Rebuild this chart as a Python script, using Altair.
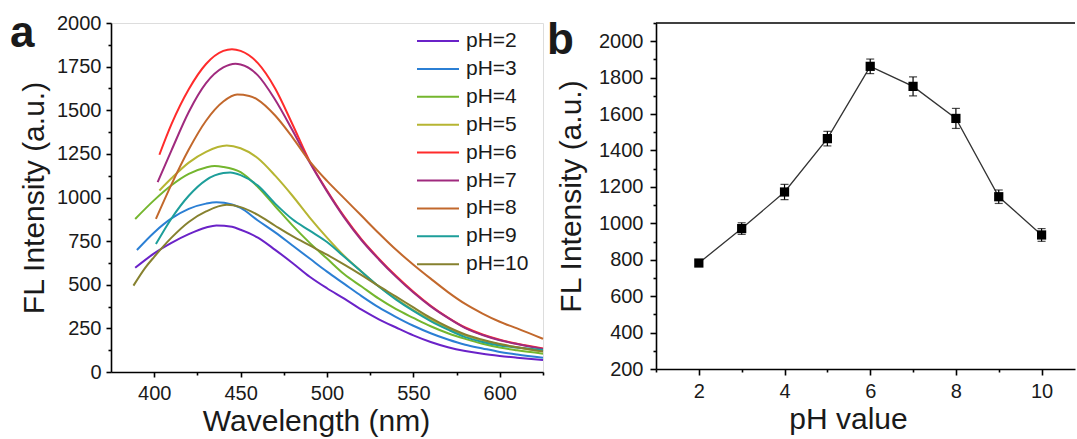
import altair as alt
import pandas as pd

FONT = "Liberation Sans"

# ---------------- Panel a data ----------------
SERIES = ["pH=2", "pH=3", "pH=4", "pH=5", "pH=6", "pH=7", "pH=8", "pH=9", "pH=10"]
COLORS = ["#6a22c8", "#2b7fd4", "#74b62e", "#b6b532", "#ff2b2b", "#a02a7e", "#c2682c", "#1d9e9a", "#86812f"]

WL_PH2 = [389, 400, 410, 420, 430, 436, 445, 450, 460, 470, 480, 490, 500, 510, 520, 530, 540, 550, 560, 570, 580, 590, 600, 610, 625]
FL_PH2 = [597, 680, 740, 790, 828, 840, 832, 815, 770, 700, 625, 546, 480, 420, 357, 302, 255, 210, 172, 142, 120, 104, 92, 82, 68]

WL_PH3 = [390, 400, 410, 420, 430, 436, 445, 450, 460, 470, 480, 490, 500, 510, 520, 530, 540, 550, 560, 570, 580, 590, 600, 610, 625]
FL_PH3 = [699, 800, 880, 935, 965, 973, 960, 940, 868, 800, 725, 650, 575, 505, 435, 370, 315, 265, 222, 186, 156, 135, 115, 100, 82]

WL_PH4 = [389, 400, 410, 420, 430, 435, 440, 450, 460, 470, 480, 490, 500, 510, 520, 530, 540, 550, 560, 570, 580, 590, 600, 610, 625]
FL_PH4 = [877, 985, 1070, 1135, 1172, 1180, 1175, 1145, 1060, 950, 840, 740, 650, 560, 490, 420, 360, 310, 262, 222, 190, 162, 140, 124, 105]

WL_PH5 = [403, 410, 420, 430, 442, 450, 460, 470, 480, 490, 500, 510, 520, 530, 540, 550, 560, 570, 580, 590, 600, 610, 625]
FL_PH5 = [1040, 1110, 1200, 1262, 1298, 1282, 1225, 1125, 1010, 885, 770, 665, 575, 490, 420, 355, 300, 250, 210, 180, 158, 140, 118]

WL_PH6 = [403, 410, 420, 430, 440, 445, 450, 460, 470, 480, 490, 500, 510, 520, 530, 540, 550, 560, 570, 580, 590, 600, 610, 625]
FL_PH6 = [1245, 1420, 1620, 1765, 1840, 1850, 1840, 1770, 1625, 1420, 1207, 1040, 890, 760, 650, 550, 460, 380, 312, 255, 215, 185, 162, 135]

WL_PH7 = [402, 410, 420, 430, 440, 447, 450, 460, 470, 480, 490, 500, 510, 520, 530, 540, 550, 560, 570, 580, 590, 600, 610, 625]
FL_PH7 = [1088, 1270, 1490, 1655, 1745, 1766, 1762, 1700, 1560, 1385, 1200, 1035, 885, 755, 645, 545, 455, 376, 310, 252, 212, 182, 160, 132]

WL_PH8 = [401, 410, 420, 430, 440, 448, 455, 460, 470, 480, 490, 500, 510, 520, 530, 540, 550, 560, 570, 580, 590, 600, 610, 625]
FL_PH8 = [877, 1075, 1275, 1440, 1550, 1590, 1582, 1560, 1470, 1345, 1207, 1095, 995, 895, 795, 700, 615, 535, 458, 390, 335, 288, 250, 190]

WL_PH9 = [401, 410, 420, 430, 440, 444, 450, 460, 470, 480, 490, 500, 510, 520, 530, 540, 550, 560, 570, 580, 590, 600, 610, 625]
FL_PH9 = [733, 880, 1010, 1100, 1140, 1143, 1128, 1068, 965, 875, 810, 745, 660, 575, 490, 415, 350, 292, 243, 200, 172, 152, 140, 126]

WL_PH10 = [388, 395, 400, 410, 420, 430, 442, 450, 460, 470, 480, 490, 500, 510, 520, 530, 540, 550, 560, 570, 580, 590, 600, 610, 625]
FL_PH10 = [495, 600, 660, 770, 860, 920, 958, 945, 900, 838, 778, 725, 672, 615, 555, 492, 432, 370, 310, 258, 215, 185, 160, 142, 118]

# ---------------- Panel b data ----------------
PH_VALUES = [2, 3, 4, 5, 6, 7, 8, 9, 10]
FL_MEAN = [782, 971, 1172, 1465, 1862, 1752, 1576, 1146, 936]
FL_ERR = [15, 32, 42, 40, 40, 52, 55, 37, 35]

# ---------------- build tables ----------------
wls = [WL_PH2, WL_PH3, WL_PH4, WL_PH5, WL_PH6, WL_PH7, WL_PH8, WL_PH9, WL_PH10]
fls = [FL_PH2, FL_PH3, FL_PH4, FL_PH5, FL_PH6, FL_PH7, FL_PH8, FL_PH9, FL_PH10]
rows = []
for name, w, f in zip(SERIES, wls, fls):
    for a, b in zip(w, f):
        rows.append({"wl": a, "fl": b, "series": name})
spectra = pd.DataFrame(rows)

summary = pd.DataFrame({"ph": PH_VALUES, "fl": FL_MEAN, "err": FL_ERR})

TXT = "#1a1a1a"
LW = 1.6

def axis(title, values, major_test, pad_label, pad_title, major=5, minor=3, title_x=None):
    kw = dict(
        title=title,
        values=values,
        format="d",
        labelExpr=f"({major_test}) ? datum.label : ''",
        tickSize={"condition": {"test": major_test, "value": major}, "value": minor},
        labelOverlap=False,
        labelFont=FONT,
        labelFontSize=20,
        labelColor=TXT,
        titleFont=FONT,
        titleFontSize=30,
        titleFontWeight="normal",
        titleColor=TXT,
        labelPadding=pad_label,
        titlePadding=pad_title,
        domainColor="black",
        domainWidth=LW,
        tickColor="black",
        tickWidth=LW,
        grid=False,
    )
    if title_x is not None:
        kw["titleX"] = title_x
    return alt.Axis(**kw)

W_A, H_A = 432, 349
lines = alt.Chart(spectra).mark_line(strokeWidth=2, interpolate="monotone").encode(
    x=alt.X(
        "wl:Q",
        scale=alt.Scale(domain=[375, 625], nice=False, zero=False),
        axis=axis("Wavelength (nm)", list(range(400, 626, 25)), "datum.value % 50 === 0", 6, 3, title_x=205),
    ),
    y=alt.Y(
        "fl:Q",
        scale=alt.Scale(domain=[0, 2000], nice=False),
        axis=axis("FL Intensity (a.u.)", list(range(0, 2001, 125)), "datum.value % 250 === 0", 5, 7),
    ),
    color=alt.Color(
        "series:N",
        scale=alt.Scale(domain=SERIES, range=COLORS),
        legend=alt.Legend(
            title=None,
            orient="none",
            legendX=305,
            legendY=7,
            padding=0,
            symbolType="stroke",
            symbolSize=1764,
            symbolStrokeWidth=2,
            clipHeight=22,
            rowPadding=5.9,
            labelOffset=6,
            labelFont=FONT,
            labelFontSize=21,
            labelColor=TXT,
        ),
    ),
    order=alt.Order("wl:Q"),
)

label_a = alt.Chart(pd.DataFrame({"t": ["a"]})).mark_text(
    font=FONT, fontSize=44, fontWeight="bold", align="left", baseline="alphabetic", color=TXT
).encode(text="t:N", x=alt.value(-101), y=alt.value(24))

panel_a = alt.layer(lines, label_a).properties(width=W_A, height=H_A)

# ---------------- panel b ----------------
W_B, H_B = 419, 346
xb = alt.X(
    "ph:Q",
    scale=alt.Scale(domain=[1, 10.78], nice=False, zero=False),
    axis=axis("pH value", list(range(1, 11)), "datum.value % 2 === 0", 6, 3, major=6, minor=3, title_x=192),
)
yb = alt.Y(
    "fl:Q",
    scale=alt.Scale(domain=[200, 2100], nice=False, zero=False),
    axis=axis("FL Intensity (a.u.)", list(range(200, 2101, 100)), "datum.value % 200 === 0", 7, 12, major=6, minor=3),
)
base = alt.Chart(summary)
line_b = base.mark_line(color="#333333", strokeWidth=1.3).encode(x=xb, y=yb)
err_b = base.mark_errorbar(ticks={"size": 8, "thickness": 1.2}, color="black", thickness=1.2).encode(
    x=xb, y=yb, yError="err:Q"
)
pts_b = base.mark_square(size=85, color="black", opacity=1).encode(x=xb, y=yb)
top_b = alt.Chart(pd.DataFrame({"t": ["b"]})).mark_rule(color="black", strokeWidth=LW).encode(
    x=alt.value(0), x2=alt.value(W_B), y=alt.value(0)
)
label_b = alt.Chart(pd.DataFrame({"t": ["b"]})).mark_text(
    font=FONT, fontSize=44, fontWeight="bold", align="left", baseline="alphabetic", color=TXT
).encode(text="t:N", x=alt.value(-109), y=alt.value(31))

panel_b = alt.layer(line_b, err_b, pts_b, top_b, label_b).properties(
    width=W_B, height=H_B, view=alt.ViewBackground(stroke="transparent")
)

chart = alt.hconcat(panel_a, panel_b, spacing=113, bounds="flush").properties(
    padding={"left": 9, "top": 11, "right": 0, "bottom": 0}
).configure_view(stroke="black", strokeWidth=LW).configure(background="white")

chart.save("out.html", embed_options={"renderer": "svg", "actions": False})
